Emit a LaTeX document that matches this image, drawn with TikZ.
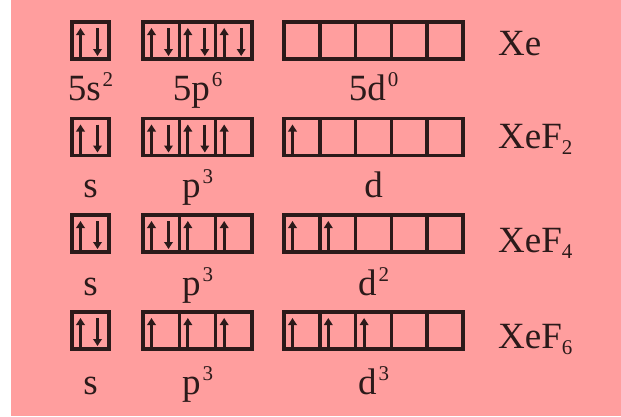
\documentclass[tikz,border=0pt]{standalone}
\usepackage{fontspec}
\setmainfont{Liberation Serif}
\usetikzlibrary{arrows.meta, positioning}

\definecolor{bgpink}{HTML}{FF9E9E}
\definecolor{ink}{HTML}{2B1A1A}

\newcommand{\hi}[1]{\kern2pt\raisebox{14pt}{\fontsize{21}{21}\selectfont #1}}
\newcommand{\lo}[1]{\raisebox{-6pt}{\fontsize{21}{21}\selectfont #1}}

\tikzset{
  orb/.style={draw=ink, line width=3.6pt},
  spin/.style={draw=ink, line width=2.8pt, -{Triangle[width=8.5pt,length=7pt]}},
  lbl/.style={font=\fontsize{37}{40}\selectfont, text=ink, inner sep=0pt, anchor=base},
}

\begin{document}
\begin{tikzpicture}[x=1pt,y=-1pt]
\useasboundingbox (0,0) rectangle (621,416);
\fill[bgpink] (11,0) rectangle (621,416);

% boxes: s | p p p | d d d d d ; 2 = pair, 1 = single up, 0 = empty
\foreach \t/\codes in {22/{2,2,2,2,0,0,0,0,0}, 118.5/{2,2,2,1,1,0,0,0,0},
                       215/{2,2,1,1,1,1,0,0,0}, 312/{2,1,1,1,1,1,1,0,0}} {
  \foreach \x/\w [count=\k from 0] in {72/37, 143/36.33, 179.33/36.33, 215.67/36.33,
      284/35.8, 319.8/35.8, 355.6/35.8, 391.4/35.8, 427.2/35.8} {
    \pgfmathtruncatemacro\e{{\codes}[\k]}
    \draw[orb] (\x,\t) rectangle ++(\w,37);
    \ifnum\e>0 \draw[spin] ({\x+8.5},{\t+35}) -- ({\x+8.5},{\t+6}); \fi
    \ifnum\e>1 \draw[spin] ({\x+25.5},{\t+6}) -- ({\x+25.5},{\t+34}); \fi
  }
}

% orbital labels
\node[lbl] (s1) at (90.5,100) {5s\hi{2}};
\node[lbl] (p1) at (197.5,100) {5p\hi{6}};
\node[lbl] (d1) at (373.5,100) {5d\hi{0}};
\node[lbl] (s2) at (90.5,197) {s};
\node[lbl] (p2) at (197.5,197) {p\hi{3}};
\node[lbl] (d2) at (373.5,197) {d};
\node[lbl] (s3) at (90.5,295) {s};
\node[lbl] (p3) at (197.5,295) {p\hi{3}};
\node[lbl] (d3) at (373.5,295) {d\hi{2}};
\node[lbl] (s4) at (90.5,394) {s};
\node[lbl] (p4) at (197.5,394) {p\hi{3}};
\node[lbl] (d4) at (373.5,394) {d\hi{3}};

% compounds
\node[lbl, anchor=base west] (xe) at (498,55) {Xe};
\node[lbl, anchor=base west] (xef2) at (498,148) {XeF\lo{2}};
\node[lbl, anchor=base west] (xef4) at (498,252) {XeF\lo{4}};
\node[lbl, anchor=base west] (xef6) at (498,348) {XeF\lo{6}};
\end{tikzpicture}
\end{document}
